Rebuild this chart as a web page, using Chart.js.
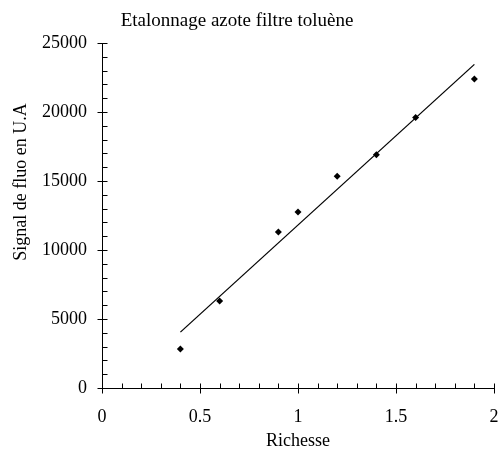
<!DOCTYPE html>
<html>
<head>
<meta charset="utf-8">
<script src="https://cdn.jsdelivr.net/npm/chart.js@4/dist/chart.umd.min.js"></script>
<style>
  body { margin: 0; background: #fff; }
  .chart-container { width: 500px; height: 451px; }
</style>
</head>
<body>
<div class="chart-container">
  <canvas id="chart"></canvas>
</div>
<script>
const richesse = [0.4, 0.6, 0.9, 1.0, 1.2, 1.4, 1.6, 1.9]
const signal = [2830, 6300, 11300, 12750, 15350, 16900, 19600, 22400]
// droite d'étalonnage (début / fin)
const fitX = [0.4, 1.9]
const fitY = [4050, 23450]
const xTicks = [0, 0.5, 1, 1.5, 2]
const yTicks = [0, 5000, 10000, 15000, 20000, 25000]
const titre = 'Etalonnage azote filtre toluène'
const titreX = 'Richesse'
const titreY = 'Signal de fluo en U.A'

Chart.defaults.font.family = '"Liberation Serif", "Times New Roman", serif'
Chart.defaults.font.size = 18
Chart.defaults.color = '#000'

// petites graduations + textes placés à la main
const axesPlugin = {
  id: 'axesPlugin',
  afterDraw(chart) {
    const ctx = chart.ctx
    const x = chart.scales.x
    const y = chart.scales.y
    const x0 = Math.round(x.left) + 0.5
    const y0 = Math.round(y.bottom) + 0.5
    ctx.save()
    ctx.strokeStyle = '#000'
    ctx.lineWidth = 1
    ctx.beginPath()
    for (let i = 0; i <= 20; i++) {
      const px = Math.round(x.getPixelForValue(i / 10)) + 0.5
      if (i % 5 === 0) {
        ctx.moveTo(px, y0 - 5); ctx.lineTo(px, y0 + 5)
      } else {
        ctx.moveTo(px, y0 - 5); ctx.lineTo(px, y0)
      }
    }
    for (let i = 0; i <= 25; i++) {
      const py = Math.round(y.getPixelForValue(i * 1000)) + 0.5
      if (i % 5 === 0) {
        ctx.moveTo(x0 - 5, py); ctx.lineTo(x0 + 5, py)
      } else {
        ctx.moveTo(x0, py); ctx.lineTo(x0 + 5, py)
      }
    }
    ctx.stroke()

    ctx.fillStyle = '#000'
    ctx.font = '19px "Liberation Serif", serif'
    ctx.textAlign = 'center'
    ctx.textBaseline = 'alphabetic'
    ctx.fillText(titre, 237, 26)

    ctx.font = '18px "Liberation Serif", serif'
    ctx.translate(21, 182)
    ctx.rotate(-Math.PI / 2)
    ctx.textBaseline = 'middle'
    ctx.fillText(titreY, 0, 0)
    ctx.restore()
  }
}

new Chart(document.getElementById('chart'), {
  data: {
    datasets: [
      {
        type: 'scatter',
        label: 'mesures',
        data: richesse.map((r, i) => ({ x: r, y: signal[i] })),
        pointStyle: 'rectRot',
        pointRadius: 3.5,
        backgroundColor: '#000',
        borderColor: '#000',
        borderWidth: 0,
      },
      {
        type: 'line',
        label: 'droite',
        data: fitX.map((r, i) => ({ x: r, y: fitY[i] })),
        borderColor: '#000',
        borderWidth: 1.3,
        pointRadius: 0,
        fill: false,
      },
    ]
  },
  options: {
    responsive: true,
    maintainAspectRatio: false,
    animation: false,
    layout: { padding: { left: 0, right: 6, top: 43, bottom: 0 } },
    scales: {
      x: {
        type: 'linear',
        min: 0,
        max: 2,
        afterBuildTicks: s => { s.ticks = xTicks.map(v => ({ value: v })) },
        afterFit: s => { s.height = 63; s.paddingLeft = 0; s.paddingRight = 4 },
        ticks: { padding: 18, callback: v => String(v) },
        grid: { display: true, drawOnChartArea: false, drawTicks: false },
        border: { display: true, color: '#000', width: 1 },
        title: { display: true, text: titreX, padding: { top: 0, bottom: -1 } },
      },
      y: {
        type: 'linear',
        min: 0,
        max: 25000,
        afterBuildTicks: s => { s.ticks = yTicks.map(v => ({ value: v })) },
        afterFit: s => { s.width = 102 },
        ticks: { padding: 15, callback: v => String(v) },
        grid: { display: true, drawOnChartArea: false, drawTicks: false },
        border: { display: true, color: '#000', width: 1 },
      }
    },
    plugins: {
      legend: { display: false },
      tooltip: { enabled: false },
    }
  },
  plugins: [axesPlugin]
})
</script>
</body>
</html>
